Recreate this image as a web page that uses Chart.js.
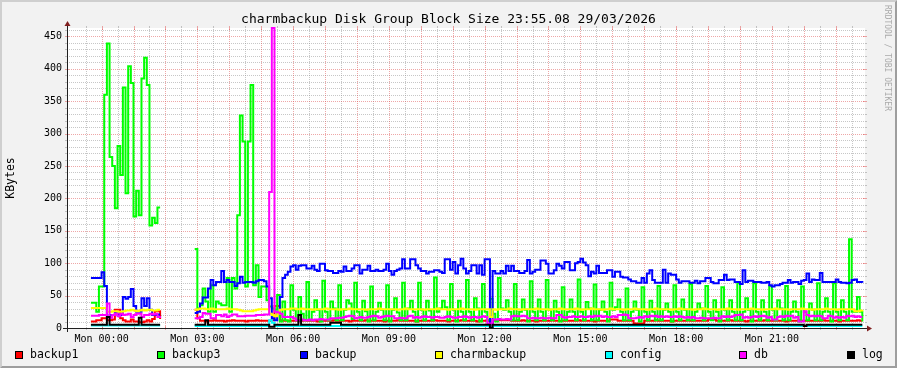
<!DOCTYPE html>
<html>
<head>
<meta charset="utf-8">
<script src="https://cdn.jsdelivr.net/npm/chart.js@4.4.1/dist/chart.umd.min.js"></script>
<style>
  body { margin: 0; background: #f2f2f2; }
  #wrap { position: relative; width: 897px; height: 368px; overflow: hidden; font-family: "DejaVu Sans Mono", monospace; }
  #chart { position: absolute; left: 0; top: 0; }
  #title { position: absolute; left: 0; top: 11px; width: 897px; text-align: center; font-size: 13px; line-height: 15px; color: #000; }
  #credit { position: absolute; left: 883px; top: 5px; writing-mode: vertical-rl; font-size: 8px; line-height: 9px; color: #aaa; white-space: nowrap; }
  .leg { position: absolute; top: 347px; font-size: 11.5px; line-height: 14px; color: #000; white-space: pre; }
  .leg i { position: absolute; left: -15px; top: 4px; width: 6px; height: 6px; border: 1px solid #000; }
</style>
</head>
<body>
<div id="wrap">
  <canvas id="chart" width="897" height="368"></canvas>
  <div id="title">charmbackup Disk Group Block Size 23:55.08 29/03/2026</div>
  <div id="credit">RRDTOOL / TOBI OETIKER</div>
</div>
<script>
// time axis: minutes from Mon 00:00, one sample every 5 minutes
const startMinute = -20;
const stepMinutes = 5;
const xTickMinutes = [0, 180, 360, 540, 720, 900, 1080, 1260];
const xTickLabels = ["Mon 00:00", "Mon 03:00", "Mon 06:00", "Mon 09:00", "Mon 12:00", "Mon 15:00", "Mon 18:00", "Mon 21:00"];
const yTickValues = [0, 50, 100, 150, 200, 250, 300, 350, 400, 450];

const seriesNames = ["backup1", "backup3", "backup", "charmbackup", "config", "db", "log"];
const seriesColors = ["#ff0000", "#00ff00", "#0000ff", "#ffff00", "#00ffff", "#ff00ff", "#000000"];

const _ = null;

const backup1Kb = [
  10,10,12,12,15,15,12,12,13,28,28,15,12,10,10,13,10,10,9,9,10,12,10,14,26,26,14,
  _,_,_,_,_,_,_,_,_,_,_,_,
  28,15,11,11,10,11,11,12,11,11,11,10,11,11,12,11,11,11,11,10,11,11,11,12,11,11,11,11,11,12,34,34,12,11,11,11,11,11,
  11,11,11,12,11,11,11,11,10,11, 11,11,11,11,12,11,11,11,11,11, 10,11,11,11,11,11,12,11,11,11,
  11,11,11,10,11,11,11,11,12,11, 11,11,11,11,11,10,11,11,11,11,
  11,11,12,11,11,11,11,10,11,11, 11,11,12,11,11,11,11,11,10,11, 11,11,11,
  3,
  12,12,12,12,12,12,12,
  11,11,11,11,12,11,11,11,11,10, 11,11,11,11,11,12,11,11,11,11, 11,11,
  11,11,11,12,11,11,11,11,11,10, 11,11,11,11,11,
  13,13,13,
  11,11,11,11,11,11,
  7,7,7,7,
  11,11,11,11,12,11,11,11,11,11, 10,11,11,11,11,11,12,11,11,11, 11,11,11,11,
  13,13,13,
  11,11,11,11,11,12,11,11,11,11, 11,10,11,11,11,11,11,11,12,11, 11,11,11,11,11,11,10,11,11,11,
  11,12,11,11,11,11,11,11,11,11, 12,11,11,11,11,11,10,11,11,11, 11,11,11,12,11,11
];

const backup3Kb = [
  39,39,25,64,64,360,439,264,250,185,281,236,371,208,404,378,172,212,174,385,417,375,158,170,162,186,186,
  _,_,_,_,_,_,_,_,_,_,_,_,
  122,30,35,61,41,25,66,25,41,38,35,35,77,25,77,61,174,328,288,64,288,375,66,97,48,64,64,43,33,30,28,51,10,41,12,10,66,28,12,
  48,22,12,
  71,12,25,43,28,10, 73,25,12,41,30,12, 66,12,28,43,38,14, 70,25,12,42,26,10,
  64,12,25,39,28,12, 66,10,28,46,24,12, 70,12,30,42,25,10, 70,28,12,42,27,12,
  78,25,30,42,32,12, 68,28,10,42,25,12, 74,25,12,46,30,10, 68,25,12,45,22,10,
  77,30,28,43,25,12, 68,12,25,44,28,10, 72,25,12,44,25,12, 74,28,12,42,25,10,
  63,12,25,44,25,12, 75,25,12,40,30,12, 67,12,28,41,25,10, 70,28,32,44,25,12,
  61,12,25,41,28,10, 63,25,12,42,25,12, 65,12,28,38,25,10, 66,25,12,44,28,12,
  68,12,25,38,30,12, 65,25,12,43,25,10, 63,28,12,43,25,12, 69,12,25,46,28,10,
  69,25,12,43,25,12, 65,28,12,43,30,12, 65,12,25,41,25,10, 64,25,12,38,28,12,
  69,12,25,46,25,10, 69,25,12,43,25,12, 137,25,25,48,25,10
];

const backupKb = [
  77,77,77,77,86,65,17,20,20,23,20,20,48,45,48,60,34,25,25,46,34,46,28,20,20,21,21,
  _,_,_,_,_,_,_,_,_,_,_,_,
  23,25,38,47,47,61,74,66,71,71,88,71,74,71,71,65,69,79,70,71,71,71,70,72,74,74,72,64,46,15,12,23,48,77,82,87,95,97,
  90,96,97,97,92,92,96,90,88,99, 99,89,88,88,85,85,88,87,95,88, 88,92,97,97,84,90,90,96,88,88,
  90,88,88,90,99,88,82,88,90,92, 106,92,92,106,106,97,92,88,88,84,
  87,87,89,89,87,85,106,106,90,102, 84,97,107,92,84,88,97,97,84,97, 82,106,106,0,88,84,84,88,84,96,
  88,96,88,88,85,85,88,105,84,87, 90,90,104,104,99,84,84,89,99,96, 92,102,102,
  89,89,100,102,107,101,97,80,87,84, 96,85,85,85,89,89,79,87,87,79, 78,78,75,72,72,70,70,77,70,84,
  89,74,70,70,70,90,70,84,82,82, 75,70,72,72,72,70,70,73,69,72, 72,77,77,
  71,69,69,74,74,82,74,75,75,71, 71,68,89,71,73,73,71,71,71,70, 70,71,66,64,66,66,68,70,70,74,
  70,71,71,68,73,74,84,71,75,74, 74,85,71,71,71,71,71,75,71,70, 70,69,70,74,75,71,71,70
];

const charmbackupKb = [
  31,31,31,31,31,31,25,25,26,26,25,25,26,27,27,28,27,26,27,28,27,28,28,27,27,28,28,
  _,_,_,_,_,_,_,_,_,_,_,_,
  28,29,30,30,29,29,30,29,29,29,29,29,30,29,29,29,28,27,26,26,26,26,27,28,29,29,29,29,22,20,18,22,28,29,29,29,30,30,
  29,29,30,29,29,29,28,29,29,29, 29,30,29,29,29,29,28,29,29,29, 30,29,29,29,29,29,28,29,29,29,
  29,30,29,29,29,29,29,29,28,29, 29,30,29,29,29,29,29,29,28,29,
  29,29,29,30,29,29,29,28,29,29, 29,29,30,29,29,29,29,28,29,29, 29,29,29,
  17,
  29,28,29,29,29,29,30,29,29,29, 28,29,29,29,29,29,30,29,29,29, 29,28,29,29,29,30,29,29,29,
  29,29,30,29,28,29,29,29,30,29, 29,29,28,29,29,30,29,29,29,29, 28,29,29,29,30,29,29,29,29,28,
  29,29,30,29,29,29,29,29,28,29, 29,30,29,29,29,29,28,29,29,29, 30,29,29,29,29,28,29,
  29,29,30,29,29,29,28,29,29,29, 29,30,29,29,29,28,29,29,29,29, 30,29,29,29,29,28,29,29,29,29,
  30,29,29,29,28,29,29,29,29,30, 29,29,29,28,29,29,29,29,29,29,
  26,26,27,28
];

const configKb = [
  4,4,4,4,4,4,4,4,4,4,4,4,4,4,4,4,4,4,4,4,4,4,4,4,4,4,4,
  _,_,_,_,_,_,_,_,_,_,_,_,
  3,3,3,3,3,3,3,3,3,3,3,3,3,3,3,3,3,3,3,3,3,3,3,3,3,3,3,3,12,8,3,3,3,3,3,3,3,3,
  3,3,3,3,3,3,3,3,3,3, 3,3,3,3,3,3,3,3,3,3, 3,3,3,3,3,3,3,3,3,3, 3,3,3,3,3,3,3,3,3,3,
  3,3,3,3,3,3,3,3,3,3, 3,3,3,3,3,3,3,3,3,3, 3,3,3,3,3,3,3,3,3,3, 3,3,3,
  0,
  3,3,3,3,3,3,3,3,3,3, 3,3,3,3,3,3,3,3,3,3, 3,3,3,3,3,3,3,3,3,3, 3,3,3,3,3,3,3,3,3,3,
  3,3,3,3,3,3,3,3,3,3, 3,3,3,3,3,3,3,3,3,3, 3,3,3,3,3,3,3,3,3,3, 3,3,3,3,3,3,3,3,3,3,
  3,3,3,3,3,3,3,3,3,3, 3,3,3,3,3,3,3,3,3,3, 3,3,3,3,3,3,3,3,3,3, 3,3,3,3,3,3,3,3,3,3,
  3,3,3,3,3,3,3,3,3,3, 3,3,3,3,3,3,3,3,3,3
];

const dbKb = [
  19,19,19,20,20,20,38,16,20,22,18,22,20,21,22,17,20,22,22,17,20,20,22,21,22,17,18,
  _,_,_,_,_,_,_,_,_,_,_,_,
  15,15,17,23,22,22,15,15,20,20,18,21,17,19,21,21,18,18,18,19,19,19,19,20,20,20,21,21,210,463,25,24,22,17,17,17,17,15,
  12,12,13,12,12,13,12, 13,13,14,13,13,13, 15,15,15,16, 16,17, 18,19,18, 15, 16,17,16,16,17,
  18,19,18, 16,17, 18,19,18,18, 15,15,16,15,15, 18,19, 16,17,16, 17,18,17,
  17,16,17,17,16,16,17,18,17,16,16,17,17,18,17,16,17,17,16,17,18,17,
  7,7, 13,13,14,13,13,14,13, 18,19,18,18,19,18, 15,15,16,15,15,16,15,15,16,15,15, 20,20, 17,16,17,
  17,18,17,17,18,17,17,18,17, 19,18,19, 17,18,17,17,18,17, 20,20,21,20, 15,15,15, 16,17,16,
  18,17, 19,18,19, 17,18,17,18,17,17,18,17,18,17, 16,17,16,17, 15,15,16,15,15,15,15,16,15,15,
  18,17,18,17,18, 20,20,21, 16,17,16, 17,18,17,18, 19,18, 16,17, 13,13, 17,18,17, 19,18,19,
  16,17, 10,10, 26,20, 18,19,18,19,18, 15,15, 19,18, 16,17,16,17,16, 19,18,19, 17,18,17,17
];

const logKb = [
  5,5,5,5,5,5,17,5,5,5,5,5,5,5,5,5,5,5,16,5,5,5,5,5,5,5,5,
  _,_,_,_,_,_,_,_,_,_,_,_,
  5,5,5,5,12,5,5,5,5,5,5,5,5,5,5,5,5,5,5,5,5,5,5,5,5,5,5,5,2,2,5,5,5,5,5,5,5,5,
  5,20, 5,5,5,5,5,5,5,5,5,5,5, 8,8,8,8,
  5,5,5,5,5,5,5,5,5,5, 5,5,5,5,5,5,5,5,5,5, 5,5,5,5,5,5,5,5,5,5, 5,5,5,5,5,5,5,5,5,5,
  5,5,5,5,5,5,5,5,5,5, 5,5,5,5,5,5,
  0,
  5,5,5,5,5,5,5,5,5,5, 5,5,5,5,5,5,5,5,5,5, 5,5,5,5,5,5,5,5,5,5, 5,5,5,5,5,5,5,5,5,5,
  5,5,5,5,5,5,5,5,5,5, 5,5,5,5,5,5,5,5,5,5, 5,5,5,5,5,5,5,5,5,5, 5,5,5,5,5,5,5,5,5,5,
  5,5,5,5,5,5,5,5,5,5, 5,5,5,5,5,5,5,5,5,5, 5,5,5,5,5,5,5,5,5,5, 5,5,5,5,5,5,5,
  3,
  5,5,5,5,5,5,5,5,5,5, 5,5,5,5,5,5,5,5,5,5, 5,5
];

const allSeries = [backup1Kb, backup3Kb, backupKb, charmbackupKb, configKb, dbKb, logKb];
const lens = allSeries.map(a => a.length);
if (lens.some(n => n !== 291)) throw new Error("series lengths: " + lens.join(","));

// legend (html)
const wrap = document.getElementById("wrap");
const legendLeft = [15, 157, 300, 435, 605, 739, 847];
seriesNames.forEach((name, i) => {
  const d = document.createElement("div");
  d.className = "leg";
  d.style.left = (legendLeft[i] + 15) + "px";
  d.innerHTML = '<i style="background:' + seriesColors[i] + '"></i>' + name;
  wrap.appendChild(d);
});

// rrdtool look: canvas, bevel, dotted grid, axes with arrows
const rrdLook = {
  id: "rrdLook",
  beforeDraw(chart) {
    const { ctx, chartArea: a, width: w, height: h } = chart;
    const xs = chart.scales.x, ys = chart.scales.y;
    ctx.save();
    ctx.fillStyle = "#f2f2f2";
    ctx.fillRect(0, 0, w, h);
    ctx.fillStyle = "#cfcfcf";
    ctx.beginPath();
    ctx.moveTo(0, 0); ctx.lineTo(w, 0); ctx.lineTo(w - 2, 2); ctx.lineTo(2, 2); ctx.lineTo(2, h - 2); ctx.lineTo(0, h);
    ctx.fill();
    ctx.fillStyle = "#9e9e9e";
    ctx.beginPath();
    ctx.moveTo(w, h); ctx.lineTo(0, h); ctx.lineTo(2, h - 2); ctx.lineTo(w - 2, h - 2); ctx.lineTo(w - 2, 2); ctx.lineTo(w, 0);
    ctx.fill();
    ctx.fillStyle = "#ffffff";
    ctx.fillRect(a.left, a.top, a.right - a.left, a.bottom - a.top);

    const minor = "rgba(143,143,143,0.5)";
    const major = "rgba(222,79,79,0.5)";
    ctx.lineWidth = 1;
    function vline(m, col) {
      const px = Math.round(xs.getPixelForValue(m)) + 0.5;
      ctx.strokeStyle = col;
      ctx.setLineDash([1, 1]);
      ctx.beginPath(); ctx.moveTo(px, a.bottom); ctx.lineTo(px, a.top); ctx.stroke();
      ctx.setLineDash([]);
      const t = col === major ? 2 : 0;
      ctx.beginPath();
      ctx.moveTo(px, a.bottom - t); ctx.lineTo(px, a.bottom + 2);
      ctx.moveTo(px, a.top - 2); ctx.lineTo(px, a.top + t);
      ctx.stroke();
    }
    function hline(v, col) {
      const py = Math.round(ys.getPixelForValue(v)) + 0.5;
      ctx.strokeStyle = col;
      ctx.setLineDash([1, 1]);
      ctx.beginPath(); ctx.moveTo(a.left, py); ctx.lineTo(a.right, py); ctx.stroke();
      ctx.setLineDash([]);
      const t = col === major ? 2 : 0;
      ctx.beginPath();
      ctx.moveTo(a.left - 2, py); ctx.lineTo(a.left + t, py);
      ctx.moveTo(a.right - t, py); ctx.lineTo(a.right + 2, py);
      ctx.stroke();
    }
    for (let m = -30; m < xs.max; m += 60) vline(m, minor);
    for (let v = 10; v <= ys.max; v += 10) if (v % 50) hline(v, minor);
    for (let m = 0; m < xs.max; m += 60) vline(m, major);
    for (let v = 50; v <= ys.max; v += 50) hline(v, major);
    ctx.restore();
  },
  afterDatasetsDraw(chart) {
    const { ctx, chartArea: a } = chart;
    const x0 = a.left + 0.5, y0 = a.bottom + 0.5;
    ctx.save();
    ctx.strokeStyle = "#1f1f1f";
    ctx.lineWidth = 1;
    ctx.beginPath();
    ctx.moveTo(a.left - 4, y0); ctx.lineTo(a.right + 4, y0);
    ctx.moveTo(x0, a.bottom + 4); ctx.lineTo(x0, a.top - 4);
    ctx.stroke();
    ctx.fillStyle = "#801f1f";
    ctx.beginPath();
    ctx.moveTo(a.right + 2, y0 - 3); ctx.lineTo(a.right + 2, y0 + 3); ctx.lineTo(a.right + 7, y0);
    ctx.fill();
    ctx.beginPath();
    ctx.moveTo(x0 - 3, a.top - 2); ctx.lineTo(x0 + 3, a.top - 2); ctx.lineTo(x0, a.top - 7);
    ctx.fill();
    ctx.restore();
  }
};

Chart.defaults.font.family = "'DejaVu Sans Mono', monospace";
Chart.defaults.color = "#000";

new Chart(document.getElementById("chart"), {
  type: "line",
  data: {
    datasets: allSeries.map((vals, i) => ({
      label: seriesNames[i],
      data: vals.map((v, k) => ({ x: startMinute + k * stepMinutes, y: v })),
      borderColor: seriesColors[i],
      backgroundColor: seriesColors[i],
      borderWidth: 2,
      pointRadius: 0,
      stepped: true,
      fill: false,
      spanGaps: false,
      borderJoinStyle: "miter",
      order: allSeries.length - 1 - i,
      clip: 3
    }))
  },
  options: {
    responsive: false,
    animation: false,
    events: [],
    layout: { padding: { top: 28, right: 32, bottom: 0, left: 0 } },
    plugins: {
      legend: { display: false },
      tooltip: { enabled: false },
      title: { display: false }
    },
    scales: {
      x: {
        type: "linear",
        min: -65,
        max: 1435,
        grid: { display: false, drawTicks: false },
        border: { display: false },
        afterFit: s => { s.height = 40; },
        afterBuildTicks: s => { s.ticks = xTickMinutes.map(v => ({ value: v })); },
        ticks: {
          autoSkip: false,
          maxRotation: 0,
          padding: 5,
          font: { size: 10 },
          callback: (v, i) => xTickLabels[i]
        }
      },
      y: {
        min: 0,
        max: 463,
        grid: { display: false, drawTicks: false },
        border: { display: false },
        afterFit: s => { s.width = 67; },
        afterBuildTicks: s => { s.ticks = yTickValues.map(v => ({ value: v })); },
        ticks: { padding: 5, font: { size: 10 }, callback: v => String(v) },
        title: { display: true, text: "KBytes", font: { size: 11.5 }, padding: { top: 4, bottom: 0 } }
      }
    }
  },
  plugins: [rrdLook]
});
</script>
</body>
</html>
